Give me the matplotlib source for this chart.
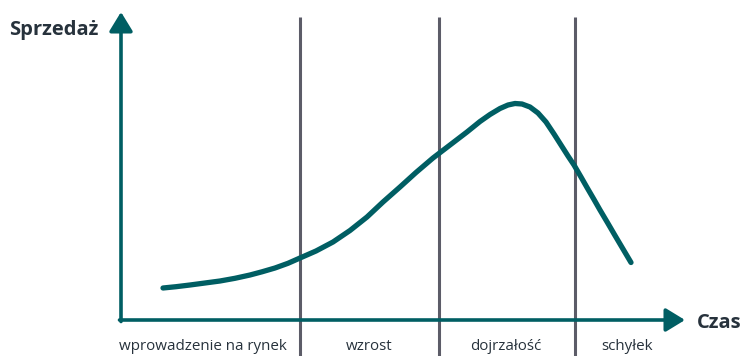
import matplotlib
matplotlib.use("Agg")
import matplotlib.pyplot as plt

# Product life cycle curve (time, sales) in arbitrary units
time = [42, 55, 69, 84, 99, 114, 129, 141, 154, 167, 179, 195, 212, 229, 246, 262,
        279, 295, 312, 329, 346, 359, 369, 379, 387, 394, 401, 409, 417, 425, 433,
        440, 447, 453, 460, 466, 473, 479, 487, 494, 502, 510]
sales = [32, 33.3, 35, 37, 39, 41.7, 45, 48.2, 52, 56.7, 62, 69, 78, 89.5, 103, 118,
         133, 147.5, 162, 175, 188, 198.5, 205.5, 211.5, 215, 216.5, 216, 213, 207, 198, 186,
         175, 164, 155, 143, 132.5, 120.5, 110, 96.5, 84.5, 71, 57.5]

phase_bounds = [179, 318, 454]
phase_labels = ["wprowadzenie na rynek", "wzrost", "dojrzałość", "schyłek"]
phase_label_x = [82, 248, 385, 506]

teal = "#005e63"
gray = "#5c5c68"
dark = "#27323c"

plt.rcParams['font.family'] = ['Open Sans', 'DejaVu Sans']

fig = plt.figure(figsize=(7.44, 3.56), dpi=100)
ax = fig.add_axes([0, 0, 1, 1])
ax.set_xlim(-121, 623)
ax.set_ylim(-36, 320)
ax.axis('off')

# phase separators
for b in phase_bounds:
    ax.plot([b, b], [-36, 303], color=gray, lw=2.2, solid_capstyle='butt', zorder=1)

# axes with arrows
arrow_style = '-|>,head_length=0.9,head_width=0.55'
ax.annotate('', xy=(0, 308), xytext=(0, -1.5),
            arrowprops=dict(arrowstyle=arrow_style, lw=2.6, color=teal,
                            mutation_scale=13, shrinkA=0, shrinkB=0), zorder=3)
ax.annotate('', xy=(564, 0), xytext=(-1.5, 0),
            arrowprops=dict(arrowstyle=arrow_style, lw=2.6, color=teal,
                            mutation_scale=13, shrinkA=0, shrinkB=0), zorder=3)

# curve
ax.plot(time, sales, color=teal, lw=3.8, solid_capstyle='round', solid_joinstyle='round', zorder=4)

# labels
ax.text(-67, 290, "Sprzedaż", fontsize=14.5, fontweight='bold', color=dark, ha='center', va='center')
ax.text(598, -3, "Czas", fontsize=14.5, fontweight='bold', color=dark, ha='center', va='center')
for x, lab in zip(phase_label_x, phase_labels):
    ax.text(x, -27, lab, fontsize=10.9, color=dark, ha='center', va='center')

fig.savefig("out.png", dpi=100)
